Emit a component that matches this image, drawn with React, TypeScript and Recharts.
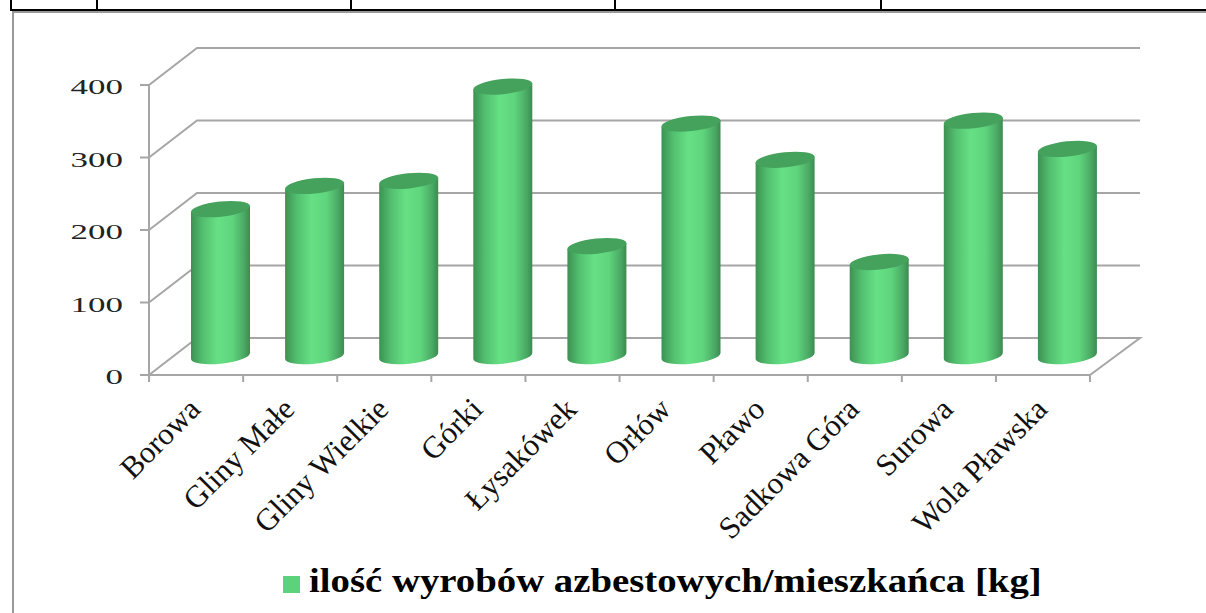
import React from "react";
import { ComposedChart, Bar, XAxis, YAxis, CartesianGrid, Legend } from "recharts";

const categories = ["Borowa", "Gliny Małe", "Gliny Wielkie", "Górki", "Łysakówek", "Orłów", "Pławo", "Sadkowa Góra", "Surowa", "Wola Pławska"];
const values = [204, 236, 243, 373, 153, 322, 272, 131, 326, 287];
const yTicks = [0, 100, 200, 300, 400];
const seriesName = "ilość wyrobów azbestowych/mieszkańca [kg]";
const rows = categories.map((name, i) => ({ name, value: values[i] }));
const dividers = [10, 96, 350, 614, 880];

const GRID = "#a6a6a6";
const DX = 48;
const DY = 37;
const FLOOR = 18;
const serif = "'Liberation Serif', serif";

const Wall = (p: any) => {
  const isFloor = Math.abs(p.y1 - (p.y + p.height)) < 1;
  const d = `M${p.x1},${p.y1} L${p.x1 + DX},${p.y1 - DY} L${p.x2 + DX + 2},${p.y1 - DY}` + (isFloor ? ` L${p.x2},${p.y1}` : "");
  return <path key={p.key} d={d} fill="none" stroke={GRID} strokeWidth={2} />;
};

const Cylinder = (p: any) => {
  const left = p.x + DX / 2;
  const w = p.width;
  const right = left + w;
  const cx = left + w / 2;
  const cy = p.y - FLOOR;
  const base = p.y + p.height - FLOOR - 1;
  const rx = w / 2;
  const ry = 7.6;
  const t = 3;
  const body = `M${left},${cy + t} L${left},${base + t} A${rx} ${ry} -6 0 0 ${right},${base - t} L${right},${cy - t} Z`;
  return (
    <g>
      <path d={body} fill="url(#cyl)" />
      <ellipse cx={cx} cy={cy} rx={rx + 0.2} ry={ry} transform={`rotate(-6 ${cx} ${cy})`} fill="#45a25c" />
    </g>
  );
};

const YTick = (p: any) => (
  <text
    transform={`translate(${p.x - 15},${p.y + 9}) scale(1.75,1)`}
    textAnchor="end"
    fontFamily={serif}
    fontSize={20}
    fill="#222"
  >
    {p.payload.value}
  </text>
);

const XTick = (p: any) => {
  const half = 47;
  return (
    <g>
      <line x1={p.x - half} x2={p.x - half} y1={374} y2={382} stroke={GRID} strokeWidth={2} />
      {p.index === categories.length - 1 && (
        <line x1={p.x + half} x2={p.x + half} y1={374} y2={382} stroke={GRID} strokeWidth={2} />
      )}
      <text
        transform={`translate(${p.x + 6},${p.y + 28}) rotate(-45)`}
        textAnchor="end"
        fontFamily={serif}
        fontSize={31}
        fill="#111"
      >
        {p.payload.value}
      </text>
    </g>
  );
};

export default function App() {
  return (
    <div style={{ position: "absolute", left: 0, top: 0, width: 1206, height: 613, background: "#fff", overflow: "hidden" }}>
      <div style={{ position: "absolute", left: 10, top: 9, right: 0, height: 2, background: "#000" }} />
      {dividers.map((x) => (
        <div key={x} style={{ position: "absolute", left: x, top: 0, width: 2, height: 10, background: "#000" }} />
      ))}
      <div style={{ position: "absolute", left: 12, top: 11, right: 0, height: 2, background: "#999" }} />
      <div style={{ position: "absolute", left: 12, top: 11, bottom: 0, width: 2, background: "#999" }} />
      <div style={{ position: "absolute", left: 0, top: 0 }}>
        <ComposedChart
          width={1206}
          height={613}
          data={rows}
          margin={{ top: 85, right: 116, bottom: 101, left: 49 }}
          barCategoryGap={0}
        >
          <defs>
            <linearGradient id="cyl" x1="0" y1="0" x2="1" y2="0">
              <stop offset="0" stopColor="#3d9152" />
              <stop offset="0.2" stopColor="#52bf6f" />
              <stop offset="0.45" stopColor="#66e085" />
              <stop offset="0.7" stopColor="#5fd57d" />
              <stop offset="0.9" stopColor="#4aa964" />
              <stop offset="1" stopColor="#3d8a50" />
            </linearGradient>
          </defs>
          <CartesianGrid vertical={false} horizontal={Wall} />
          <XAxis
            dataKey="name"
            interval={0}
            height={100}
            axisLine={{ stroke: GRID, strokeWidth: 2 }}
            tickLine={false}
            tick={XTick}
          />
          <YAxis
            domain={[0, 400]}
            ticks={yTicks}
            width={100}
            axisLine={{ stroke: GRID, strokeWidth: 2 }}
            tickLine={{ stroke: GRID, strokeWidth: 2 }}
            tickSize={9}
            tick={YTick}
          />
          <Bar dataKey="value" name={seriesName} fill="#5cd27a" barSize={59} shape={Cylinder} isAnimationActive={false} />
          <Legend
            layout="vertical"
            align="center"
            verticalAlign="bottom"
            iconType="square"
            iconSize={17}
            wrapperStyle={{ left: 283, top: 563, width: 800, bottom: "auto", fontFamily: serif, fontSize: 33, fontWeight: 700 }}
            formatter={(v: string) => (
              <span style={{ color: "#000", display: "inline-block", transform: "scaleX(1.175)", transformOrigin: "left center", marginLeft: 5 }}>{v}</span>
            )}
          />
        </ComposedChart>
      </div>
    </div>
  );
}
